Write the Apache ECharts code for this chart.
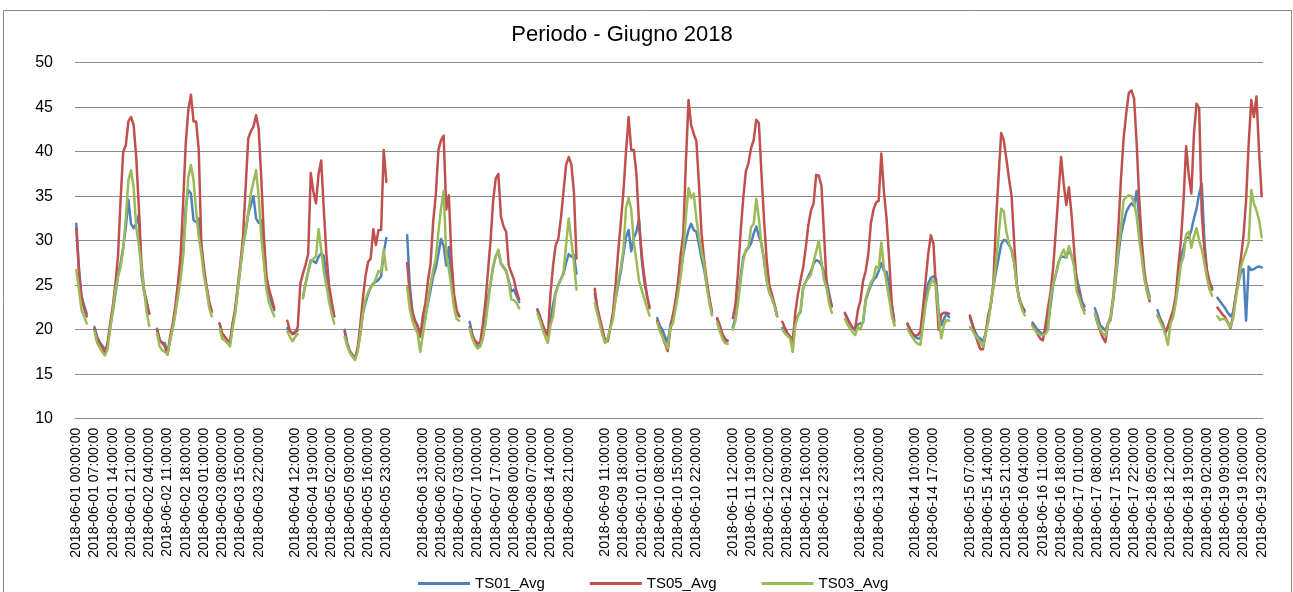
<!DOCTYPE html>
<html lang="it">
<head>
    <meta charset="UTF-8">
    <title>Periodo - Giugno 2018</title>
    <script src="https://cdn.jsdelivr.net/npm/echarts@6/dist/echarts.min.js"></script>
    <style>
        body { margin: 0; background: #fff; }
    </style>
</head>
<body>
<div id="main" style="width: 1293px; height: 592px;"></div>
</body>
<script>
    // giorni del periodo, una riga per ora
    var days = ['2018-06-01', '2018-06-02', '2018-06-03', '2018-06-04', '2018-06-05', '2018-06-06', '2018-06-07',
        '2018-06-08', '2018-06-09', '2018-06-10', '2018-06-11', '2018-06-12', '2018-06-13', '2018-06-14',
        '2018-06-15', '2018-06-16', '2018-06-17', '2018-06-18', '2018-06-19']
    var hours = ['00', '01', '02', '03', '04', '05', '06', '07', '08', '09', '10', '11',
        '12', '13', '14', '15', '16', '17', '18', '19', '20', '21', '22', '23']
    // righe senza timestamp (etichetta vuota sull'asse)
    var noStamp = [77, 126, 196, 245, 294, 315, 336]

    var yTicks = [10, 15, 20, 25, 30, 35, 40, 45, 50]

    // TS01_Avg (una riga = un giorno, 24 ore)
    var ts01 = [
        31.9, 27.0, 23.8, 22.7, 21.8, null, null, 20.3, 19.2, 18.6, 18.2, 17.7, 18.3, 20.3, 22.0, 24.0, 26.0, 27.5, 29.3, 31.5, 34.6, 31.9, 31.4, 31.9,
        32.9, 26.2, 24.3, 23.2, 21.8, null, null, 20.1, 18.9, 18.5, 18.5, 17.3, 18.8, 20.2, 21.9, 24.0, 26.0, 28.6, 33.8, 35.7, 35.3, 32.3, 32.1, 32.5,
        29.5, 26.5, 24.8, 23.0, 22.0, null, null, 20.7, 19.5, 19.2, 18.8, 18.5, 20.7, 22.0, 24.5, 27.0, 29.5, 31.0, 33.0, 34.0, 35.0, 32.5, 32.0, 32.3,
        28.0, 25.0, 24.0, 23.0, 22.2, null, null, null, null, 20.2, 19.8, 19.6, 19.8, 19.9, null, 23.7, 25.2, 26.5, 27.8, 27.7, 27.5, 28.2, 28.6, 28.3,
        26.0, 24.5, 22.8, 21.5, null, null, null, 20.0, 18.5, 17.6, 17.2, 16.8, 17.8, 19.5, 21.8, 23.0, 24.0, 24.8, 25.2, 25.4, 25.6, 26.0, 28.6, 30.3,
        null, null, null, null, null, null, null, 30.6, 25.0, 22.0, 21.0, 20.5, 19.5, 20.3, 21.6, 23.0, 24.5, 26.0, 27.0, 28.5, 30.2, 29.4, 27.2, 29.3,
        25.7, 23.0, 22.0, 21.5, null, null, null, 20.9, 19.5, 18.6, 18.2, 18.2, 19.0, 21.0, 23.5, 25.2, 27.0, 28.3, 28.8, 27.4, 27.0, 26.6, 25.5, 24.3,
        24.5, 23.8, 23.1, null, null, null, null, null, null, 22.3, 21.4, 20.6, 19.8, 19.5, 21.0, 22.8, 24.2, 25.0, 25.7, 26.3, 27.5, 28.5, 28.2, 28.4,
        26.3, null, null, null, null, null, null, 24.0, 22.4, 21.0, 19.6, 18.6, 19.0, 20.3, 21.5, 23.5, 25.0, 26.5, 28.5, 30.4, 31.2, 28.8, 30.3, 31.0,
        32.4, 28.0, 25.5, 23.8, 22.6, null, null, 21.3, 20.4, 20.0, 19.2, 18.5, 20.5, 21.6, 22.6, 24.5, 26.5, 28.5, 30.0, 31.2, 31.9, 31.2, 31.0, 29.6,
        28.0, 26.7, 25.0, 23.5, 22.0, null, 21.2, 20.2, 19.5, 18.7, 18.8, null, 20.3, 21.3, 23.5, 26.0, 28.2, 28.8, 29.2, 29.7, 30.8, 31.6, 30.5, 29.7,
        27.8, 25.5, 24.2, 23.6, 22.8, 21.6, null, 20.2, 19.8, 19.4, 19.2, 19.0, 20.8, 21.6, 22.0, 24.7, 25.4, 26.0, 26.6, 27.4, 27.8, 27.7, 27.3, 26.5,
        25.5, 24.0, 22.7, null, null, null, null, 21.9, 21.3, 20.7, 20.2, 19.9, 20.6, 20.7, 20.8, 23.3, 24.2, 25.0, 25.6, 25.9, 26.6, 27.5, 26.6, 26.5,
        25.0, 22.8, 21.0, null, null, null, null, 20.6, 20.0, 19.5, 19.2, 19.0, 19.0, 21.5, 23.8, 25.2, 25.8, 26.0, 25.7, 22.0, 20.5, 21.2, 21.8, 21.4,
        null, null, null, null, null, null, null, 21.4, 20.5, 19.8, 19.2, 19.0, 18.7, 19.5, 21.0, 22.8, 24.8, 26.5, 28.0, 29.6, 30.1, 30.0, 29.5, 29.0,
        27.5, 25.0, 23.5, 22.5, 22.2, null, null, 20.8, 20.4, 20.0, 19.7, 19.5, 19.6, 20.6, 22.8, 25.1, 26.2, 27.6, 28.2, 28.2, 28.1, 29.0, 28.3, 27.4,
        25.8, 24.6, 23.2, 22.6, null, null, null, 22.4, 21.5, 20.5, 20.2, 19.9, 20.7, 21.1, 23.3, 25.8, 28.5, 30.7, 32.0, 33.2, 33.8, 34.2, 33.9, 35.6,
        32.5, 28.6, 26.0, 24.8, 23.7, null, null, 22.2, 21.3, 20.7, 19.8, 20.2, 20.8, 21.7, 23.4, 26.0, 28.2, 29.2, 30.4, 30.3, 31.2, 32.5, 33.6, 35.3,
        36.4, 30.0, 26.5, 25.3, 24.7, null, 23.6, 23.2, 22.8, 22.4, 21.9, 21.5, 21.9, 23.8, 25.2, 26.5, 26.8, 21.0, 27.1, 26.7, 26.8, 27.0, 27.1, 27.0
    ]

    // TS05_Avg
    var ts05 = [
        31.4, 26.5, 23.7, 22.4, 21.5, null, null, 20.1, 19.0, 18.5, 17.9, 17.3, 18.5, 20.7, 22.6, 25.2, 28.2, 34.6, 40.0, 40.7, 43.4, 43.9, 43.0, 39.4,
        33.8, 27.5, 24.5, 23.0, 21.8, null, null, 20.0, 18.8, 18.5, 18.1, 17.2, 19.2, 20.7, 22.6, 25.2, 28.2, 34.2, 40.9, 44.7, 46.4, 43.4, 43.4, 40.2,
        29.5, 27.0, 24.8, 23.2, 22.0, null, null, 20.7, 19.6, 19.2, 18.8, 18.5, 20.7, 22.4, 25.0, 27.5, 30.5, 36.0, 41.5, 42.3, 42.8, 44.1, 42.6, 37.0,
        30.5, 26.0, 24.5, 23.5, 22.4, null, null, null, null, 21.0, 19.9, 19.5, 19.6, 20.3, 25.2, 26.3, 27.3, 28.5, 37.6, 35.5, 34.2, 37.5, 39.0, 33.5,
        28.5, 25.0, 23.2, 21.5, null, null, null, 19.8, 18.3, 17.5, 17.0, 16.7, 18.0, 20.5, 23.5, 26.0, 27.6, 28.0, 31.3, 29.5, 31.2, 31.2, 40.2, 36.6,
        null, null, null, null, null, null, null, 27.5, 24.0, 22.0, 21.0, 20.3, 19.2, 21.5, 23.0, 25.5, 27.5, 32.2, 35.2, 40.2, 41.3, 41.8, 33.5, 35.1,
        28.0, 24.0, 22.2, 21.5, null, null, null, 20.3, 19.3, 18.8, 18.5, 18.5, 20.5, 23.0, 26.5, 30.0, 34.5, 37.0, 37.5, 32.7, 31.6, 31.0, 27.2, 26.4,
        25.6, 24.3, 23.4, null, null, null, null, null, null, 22.2, 21.5, 20.5, 19.8, 19.3, 24.0, 27.2, 29.5, 30.2, 32.5, 35.5, 38.5, 39.4, 38.6, 35.5,
        28.0, null, null, null, null, null, null, 24.6, 22.4, 21.2, 20.0, 18.7, 18.7, 20.2, 22.0, 25.0, 28.8, 32.0, 35.5, 40.0, 43.9, 40.2, 40.2, 37.5,
        32.0, 28.5, 26.0, 24.0, 22.4, null, null, 21.0, 20.0, 19.3, 18.4, 17.6, 20.0, 21.6, 23.3, 25.5, 28.5, 30.8, 39.0, 45.8, 43.0, 42.0, 41.2, 36.4,
        30.8, 27.8, 25.5, 23.5, 21.8, null, 21.3, 20.5, 19.5, 19.0, 18.7, null, 21.3, 22.8, 26.5, 31.0, 34.8, 37.8, 38.7, 40.4, 41.3, 43.6, 43.2, 37.5,
        32.3, 27.8, 25.0, 24.0, 22.8, 21.5, null, 20.9, 20.2, 19.6, 19.2, 18.5, 22.0, 24.0, 25.6, 27.0, 29.2, 31.8, 33.4, 34.2, 37.4, 37.3, 36.2, 30.8,
        25.2, 23.5, 22.6, null, null, null, null, 21.8, 21.2, 20.6, 20.2, 20.2, 22.2, 23.3, 25.5, 26.6, 28.5, 32.0, 33.5, 34.3, 34.5, 39.8, 35.5, 32.5,
        28.0, 23.0, 20.5, null, null, null, null, 20.7, 20.1, 19.6, 19.3, 19.4, 19.8, 22.5, 25.5, 28.5, 30.6, 29.7, 24.5, 20.0, 21.7, 21.9, 21.9, 21.8,
        null, null, null, null, null, null, null, 21.6, 20.6, 19.5, 18.6, 17.8, 17.8, 19.5, 21.6, 22.8, 25.2, 32.0, 37.2, 42.1, 41.3, 39.2, 37.0, 35.0,
        29.8, 25.0, 23.3, 22.7, 22.0, null, null, 20.6, 20.0, 19.5, 19.0, 18.8, 20.5, 22.5, 24.3, 27.1, 31.2, 35.3, 39.4, 36.4, 34.0, 36.0, 33.0, 29.0,
        25.2, 23.8, 22.6, 22.2, null, null, null, 21.8, 20.7, 19.9, 19.1, 18.6, 20.6, 21.5, 23.7, 27.0, 31.5, 37.0, 41.5, 44.3, 46.6, 46.9, 46.0, 41.0,
        34.6, 29.8, 26.5, 24.3, 23.2, null, null, 21.6, 21.1, 20.5, 19.6, 20.4, 21.3, 22.2, 23.8, 27.1, 30.0, 34.5, 40.6, 37.4, 35.3, 42.0, 45.4, 44.9,
        33.0, 29.0, 26.7, 25.3, 24.5, null, 22.5, 22.1, 21.7, 21.4, 20.8, 20.2, 21.5, 23.6, 25.8, 28.0, 30.5, 34.5, 40.9, 45.8, 43.9, 46.2, 40.0, 35.0
    ]

    // TS03_Avg
    var ts03 = [
        26.7, 24.5, 22.2, 21.5, 20.7, null, null, 19.8, 18.5, 18.0, 17.5, 17.1, 17.8, 20.1, 22.0, 24.5, 26.0, 27.0, 29.0, 32.5, 36.8, 37.9, 36.0, 31.5,
        29.5, 27.0, 24.5, 22.0, 20.4, null, null, 19.6, 18.1, 17.7, 17.5, 17.2, 18.8, 20.1, 21.8, 23.7, 25.6, 28.2, 32.7, 37.2, 38.5, 36.8, 33.4, 30.4,
        28.5, 26.0, 24.5, 22.5, 21.5, null, null, 20.1, 19.0, 18.8, 18.5, 18.1, 20.1, 21.8, 24.5, 27.0, 29.5, 31.2, 33.1, 35.3, 36.6, 37.9, 35.0, 30.4,
        27.5, 24.5, 23.0, 22.2, 21.5, null, null, null, null, 19.8, 19.2, 18.7, 19.2, 19.5, null, 23.5, 25.2, 26.5, 27.6, 28.0, 28.2, 31.3, 29.0, 26.5,
        25.0, 23.2, 21.8, 20.7, null, null, null, 19.2, 18.2, 17.4, 17.0, 16.6, 17.5, 19.5, 21.8, 23.4, 24.2, 24.8, 25.0, 25.8, 26.6, 26.5, 29.0, 26.7,
        null, null, null, null, null, null, null, 24.8, 22.3, 21.0, 20.2, 19.6, 17.5, 19.4, 21.2, 23.3, 25.2, 26.7, 28.0, 31.0, 33.6, 35.6, 28.5, 26.8,
        24.7, 22.5, 21.2, 21.0, null, null, null, 20.1, 19.0, 18.3, 17.9, 18.1, 19.0, 20.5, 22.8, 25.2, 27.2, 28.2, 29.0, 27.5, 27.1, 26.7, 25.2, 23.4,
        23.3, 23.0, 22.4, null, null, null, null, null, null, 21.8, 21.0, 20.0, 19.2, 18.5, 20.5, 21.5, 24.0, 25.0, 25.6, 26.5, 29.5, 32.5, 30.0, 27.5,
        24.5, null, null, null, null, null, null, 23.0, 21.8, 20.6, 19.3, 18.5, 19.0, 20.2, 21.1, 23.5, 25.5, 27.0, 29.0, 33.7, 34.8, 33.5, 29.8, 27.7,
        25.5, 24.5, 23.5, 22.5, 21.6, null, null, 20.8, 19.8, 19.2, 18.4, 17.9, 20.3, 20.7, 22.3, 24.0, 26.0, 28.6, 32.8, 35.9, 34.8, 35.3, 32.5, 30.5,
        28.8, 27.4, 24.8, 23.0, 21.6, null, 20.8, 19.8, 19.0, 18.5, 18.4, null, 20.0, 21.0, 23.0, 25.5, 27.7, 29.0, 29.3, 31.5, 31.9, 34.7, 32.5, 29.4,
        27.8, 25.5, 24.2, 23.5, 22.6, 21.5, null, 20.0, 19.6, 19.3, 19.0, 17.5, 20.5, 21.5, 22.2, 24.8, 25.4, 25.8, 26.2, 27.6, 28.8, 30.0, 27.7, 25.6,
        24.7, 22.9, 21.9, null, null, null, null, 21.2, 20.6, 20.1, 19.7, 19.4, 20.3, 20.0, 21.0, 23.5, 24.5, 25.3, 25.8, 27.1, 26.9, 29.8, 27.0, 25.2,
        23.5, 21.6, 20.5, null, null, null, null, 20.1, 19.6, 19.1, 18.7, 18.4, 18.3, 20.5, 22.8, 24.3, 25.3, 25.6, 24.8, 21.5, 19.0, 20.5, 21.1, 21.0,
        null, null, null, null, null, null, null, 20.3, 19.9, 19.4, 19.0, 18.6, 18.1, 19.5, 20.8, 22.8, 24.8, 27.5, 30.5, 33.6, 33.3, 31.0, 29.7, 28.8,
        27.5, 24.8, 23.3, 22.3, 21.6, null, null, 20.4, 19.9, 19.6, 19.4, 19.4, 19.5, 20.0, 23.6, 25.2, 26.3, 27.4, 28.4, 29.0, 28.1, 29.4, 28.4, 27.1,
        24.3, 23.5, 22.6, 21.8, null, null, null, 21.8, 20.7, 20.1, 19.6, 19.3, 20.6, 21.3, 23.5, 26.2, 29.2, 31.5, 34.6, 34.9, 35.1, 35.0, 34.3, 32.8,
        30.1, 28.0, 25.6, 24.3, 23.5, null, null, 21.6, 20.9, 20.3, 19.5, 18.3, 20.7, 21.4, 23.0, 25.0, 27.4, 28.2, 30.7, 31.0, 29.2, 30.5, 31.4, 30.0,
        29.0, 27.5, 25.8, 24.5, 23.8, null, 21.5, 21.1, 21.2, 21.2, 20.7, 20.3, 21.2, 23.3, 25.2, 27.0, 28.0, 28.8, 29.8, 35.7, 34.2, 33.4, 32.3, 30.4
    ]

    // categorie: una per ora, vuota dove manca il timestamp
    var categories = []
    for (var d = 0; d < days.length; d++) {
        for (var h = 0; h < hours.length; h++) {
            var idx = d * 24 + h
            categories.push(noStamp.indexOf(idx) >= 0 ? '' : days[d] + ' ' + hours[h] + ':00:00')
        }
    }

    var font = "'Liberation Sans', Arial, sans-serif"
    var gridColor = '#8c8c8c'

    var myChart = echarts.init(document.getElementById('main'))
    var option = {
        animation: false,
        backgroundColor: '#fff',
        // cornice dell'area grafico
        graphic: [{
            type: 'rect',
            shape: { x: 3.5, y: 10.5, width: 1288, height: 600 },
            style: { fill: 'none', stroke: '#8a8a8a', lineWidth: 1 },
            silent: true
        }],
        title: {
            text: 'Periodo - Giugno 2018',
            left: 617,
            top: 19,
            textAlign: 'center',
            textStyle: { fontFamily: font, fontSize: 22, fontWeight: 'normal', color: '#000' }
        },
        legend: {
            left: 413,
            top: 571,
            icon: 'rect',
            itemWidth: 52,
            itemHeight: 3,
            itemGap: 45,
            textStyle: { fontFamily: font, fontSize: 15, color: '#000' },
            data: ['TS01_Avg', 'TS05_Avg', 'TS03_Avg']
        },
        grid: {
            left: 75,
            right: 30,
            top: 62.7,
            bottom: 173.3,
            containLabel: false
        },
        xAxis: {
            type: 'category',
            boundaryGap: true,
            data: categories,
            axisLine: { show: true, lineStyle: { color: gridColor, width: 1 } },
            axisTick: { show: false },
            axisLabel: {
                interval: 6,
                rotate: 90,
                margin: 9,
                fontFamily: font,
                fontSize: 14,
                color: '#000'
            },
            splitLine: { show: false }
        },
        yAxis: {
            type: 'value',
            min: yTicks[0],
            max: yTicks[yTicks.length - 1],
            interval: 5,
            axisLine: { show: false },
            axisTick: { show: false },
            axisLabel: { margin: 22, fontFamily: font, fontSize: 16, color: '#000' },
            splitLine: { show: true, lineStyle: { color: gridColor, width: 1 } }
        },
        series: [
            {
                name: 'TS01_Avg',
                type: 'line',
                data: ts01,
                symbol: 'none',
                connectNulls: false,
                color: '#4F81BD',
                lineStyle: { width: 2.5, cap: 'round', join: 'round' }
            },
            {
                name: 'TS05_Avg',
                type: 'line',
                data: ts05,
                symbol: 'none',
                connectNulls: false,
                color: '#C0504D',
                lineStyle: { width: 2.5, cap: 'round', join: 'round' }
            },
            {
                name: 'TS03_Avg',
                type: 'line',
                data: ts03,
                symbol: 'none',
                connectNulls: false,
                color: '#9BBB59',
                lineStyle: { width: 2.5, cap: 'round', join: 'round' }
            }
        ]
    };
    myChart.setOption(option);
</script>
</html>
